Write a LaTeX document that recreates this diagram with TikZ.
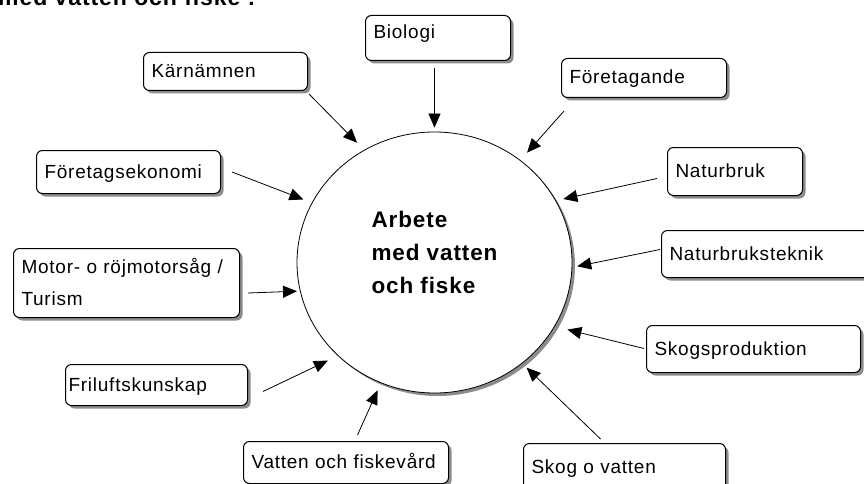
\documentclass[tikz,border=0pt]{standalone}
\usepackage{fontspec}
\setmainfont{Liberation Sans}[LetterSpace=4]
\usetikzlibrary{shapes.geometric,arrows.meta,shadows}

\tikzset{
  box/.style={draw, fill=white, line width=1pt, rounded corners=6pt, anchor=north west,
    align=left, inner xsep=8pt, inner ysep=0pt, text height=13pt, text depth=1pt,
    font=\fontsize{19}{32}\selectfont,
    drop shadow={shadow xshift=3pt, shadow yshift=-3pt, fill=black!45, opacity=1}},
  hubnode/.style={draw, fill=white, ellipse, line width=0.8pt, inner sep=0pt, align=left,
    font=\bfseries\fontsize{22.5}{33}\selectfont,
    drop shadow={shadow xshift=3pt, shadow yshift=-3pt, fill=black!45, opacity=1}},
  link/.style={-{Triangle[length=14pt,width=12pt]}, line width=0.8pt}
}

\begin{document}
\begin{tikzpicture}[x=1pt, y=-1pt]
    \useasboundingbox (0,0) rectangle (864,484);
    \clip (0,0) rectangle (864,484);

    \node[anchor=base west, inner sep=0pt, font=\bfseries\fontsize{23}{28}\selectfont] (title) at (-2,6) {med vatten och fiske :};

    \node[hubnode, minimum width=275pt, minimum height=261pt, text depth=21pt] (hub) at (434.5,262.5) {Arbete\\med vatten\\och fiske};

    \node[box, text width=129pt, minimum height=45pt, text depth=12pt] (bio) at (365,15) {Biologi};
    \node[box, text width=148pt, minimum height=38pt] (kaern) at (143,52) {Kärnämnen};
    \node[box, text width=149pt, minimum height=39pt] (ftg) at (561,58) {Företagande};
    \node[box, text width=168pt, minimum height=43pt] (ekon) at (36,150) {Företagsekonomi};
    \node[box, text width=119pt, minimum height=48pt] (natur) at (667,147) {Naturbruk};
    \node[box, text width=199pt, minimum height=47pt] (teknik) at (661,230) {Naturbruksteknik};
    \node[box, text width=210pt, minimum height=69pt, text depth=33pt] (motor) at (13,248) {Motor- o röjmotorsåg /\\Turism};
    \node[box, text width=198pt, minimum height=47pt] (skogp) at (646,325) {Skogsproduktion};
    \node[box, text width=176pt, minimum height=41pt, inner xsep=3pt] (frilu) at (65,364) {Friluftskunskap};
    \node[box, text width=189pt, minimum height=42pt] (vatten) at (243,441) {Vatten och fiskevård};
    \node[box, text width=186pt, minimum height=48pt] (skogv) at (523,443) {Skog o vatten};

    \draw[link, shorten <=7pt, shorten >=4pt] (hub.north |- bio.south) -- (hub.north);
    \draw[link, shorten >=10pt] ([shift={(1,3)}]kaern.south east) -- (hub.122);
    \draw[link, shorten >=10pt] ([shift={(3,13)}]ftg.south west) -- (hub.50);
    \draw[link, shorten >=9pt] ([xshift=11pt]ekon.east) -- (hub.154);
    \draw[link, shorten >=7.5pt] ([shift={(-10,7)}]natur.west) -- (hub.27);
    \draw[link, shorten >=5pt] ([shift={(-1,-4.5)}]teknik.west) -- (hub.-2);
    \draw[link, shorten >=3pt] ([shift={(8,10)}]motor.east) -- (hub.192);
    \draw[link, shorten >=13pt] ([shift={(-2,-0.5)}]skogp.west) -- (hub.-28);
    \draw[link, shorten >=11pt] ([shift={(15,6.5)}]frilu.east) -- (hub.224);
    \draw[link, shorten >=8pt] ([shift={(11.5,-6)}]vatten.north) -- (hub.246);
    \draw[link, shorten >=6pt] ([shift={(-24,-4)}]skogv.north) -- (hub.-49);
\end{tikzpicture}
\end{document}
